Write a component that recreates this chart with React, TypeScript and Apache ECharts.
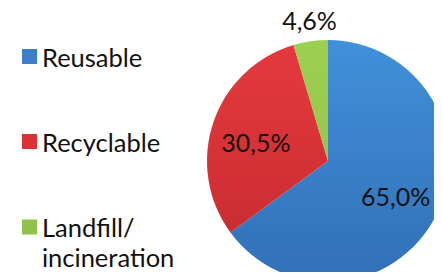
import React, { useEffect, useRef } from "react";
import * as echarts from "echarts";

const categories = ["Reusable", "Recyclable", "Landfill/\nincineration"];
const values = [65.0, 30.5, 4.6];
const labels = ["65,0%", "30,5%", "4,6%"];

const topColors = ["#4190da", "#e63a3d", "#9dcf51"];
const bottomColors = ["#3170b6", "#c22a2e", "#8cbf45"];
const legendColors = ["#3b7fc8", "#d83236", "#8fc24a"];

const FONT = "Lato, 'Noto Sans', sans-serif";

export default function App() {
  const ref = useRef<HTMLDivElement>(null);
  useEffect(() => {
    if (!ref.current) return;
    const chart = echarts.init(ref.current, null, { renderer: "svg" });
    const grad = (i: number) => ({
      type: "linear",
      x: 0,
      y: 40,
      x2: 0,
      y2: 282,
      global: true,
      colorStops: [
        { offset: 0, color: topColors[i] },
        { offset: 1, color: bottomColors[i] },
      ],
    });
    const legendTops = [33.5, 118.5, 177];
    const legends = categories.map((name, i) => ({
      orient: "vertical",
      left: 17,
      top: legendTops[i],
      icon: "rect",
      itemWidth: 15,
      itemHeight: 15,
      itemGap: 0,
      selectedMode: false,
      data: [{ name, itemStyle: { color: legendColors[i] } }],
      formatter: (n: string) => (n.indexOf("\n") >= 0 ? "\n" + n : n),
      textStyle: {
        fontFamily: FONT,
        fontSize: 25.5,
        lineHeight: 30,
        color: "#111",
        padding: [i === 2 ? 0 : 6, 0, 0, 0],
      },
    }));
    const shifts = [
      [11, 6],
      [-12, 1],
      [32, -16],
    ];
    chart.setOption({
      animation: false,
      legend: legends,
      series: [
        {
          type: "pie",
          center: [328, 161],
          radius: 121,
          startAngle: 90,
          clockwise: true,
          avoidLabelOverlap: false,
          labelLine: { show: false, length: 5, length2: 0 },
          label: {
            fontFamily: FONT,
            fontSize: 25,
            color: "#111",
          },
          labelLayout: (params: any) => ({
            dx: shifts[params.dataIndex][0],
            dy: shifts[params.dataIndex][1],
          }),
          data: categories.map((name, i) => ({
            name,
            value: values[i],
            itemStyle: { color: grad(i) },
            label: {
              show: true,
              position: i === 2 ? "outside" : "inside",
              formatter: () => labels[i],
              align: "center",
            },
          })),
        },
      ],
    });
    return () => chart.dispose();
  }, []);
  return <div ref={ref} style={{ width: 442, height: 280, margin: -8 }} />;
}
